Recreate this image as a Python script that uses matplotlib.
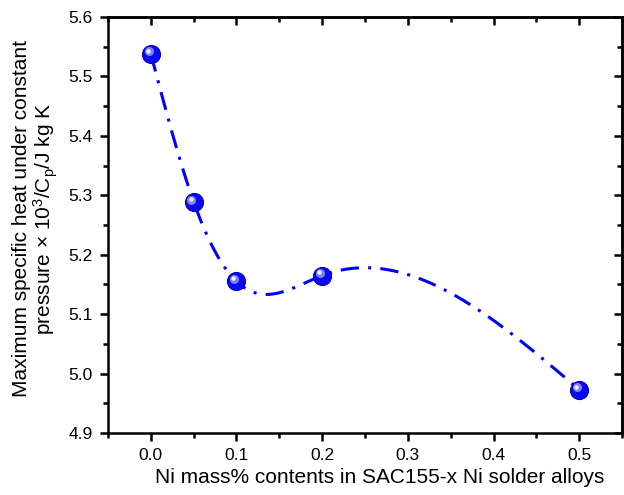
import numpy as np
import matplotlib
matplotlib.use("Agg")
import matplotlib.pyplot as plt
from matplotlib import transforms
from matplotlib.ticker import MultipleLocator

plt.rcParams['font.family'] = ['Liberation Sans', 'DejaVu Sans']
plt.rcParams['mathtext.fontset'] = 'custom'
plt.rcParams['mathtext.rm'] = 'Liberation Sans'
plt.rcParams['mathtext.it'] = 'Liberation Sans:italic'

ni_content = [0.0, 0.05, 0.1, 0.2, 0.5]
cp_max = [5.538, 5.289, 5.155, 5.165, 4.973]


def natural_spline(x, y, n=400):
    # natural cubic spline through the measured points
    x = np.asarray(x, float)
    y = np.asarray(y, float)
    h = np.diff(x)
    m = len(x)
    A = np.zeros((m, m))
    b = np.zeros(m)
    A[0, 0] = A[-1, -1] = 1
    for i in range(1, m - 1):
        A[i, i - 1] = h[i - 1]
        A[i, i] = 2 * (h[i - 1] + h[i])
        A[i, i + 1] = h[i]
        b[i] = 6 * ((y[i + 1] - y[i]) / h[i] - (y[i] - y[i - 1]) / h[i - 1])
    M = np.linalg.solve(A, b)
    xs = np.linspace(x[0], x[-1], n)
    idx = np.clip(np.searchsorted(x, xs) - 1, 0, m - 2)
    x0, x1 = x[idx], x[idx + 1]
    hh = x1 - x0
    ys = (M[idx] * (x1 - xs) ** 3 / (6 * hh) + M[idx + 1] * (xs - x0) ** 3 / (6 * hh)
          + (y[idx] / hh - M[idx] * hh / 6) * (x1 - xs)
          + (y[idx + 1] / hh - M[idx + 1] * hh / 6) * (xs - x0))
    return xs, ys


fig = plt.figure(figsize=(6.24, 4.95), dpi=100)
ax = fig.add_axes([0.173, 0.125, 0.824, 0.841])

xs, ys = natural_spline(ni_content, cp_max)
ax.plot(xs, ys, color='#0000ff', lw=2.2, linestyle=(0, (6, 3, 1, 3)), zorder=2)

# shaded balls: blue body, lighter core, white glint up-left
ax.plot(ni_content, cp_max, 'o', ms=13, color='#0a0af0', mec='#0000c8', mew=0.8, zorder=3)
core = transforms.offset_copy(ax.transData, fig=fig, x=-1.6, y=1.6, units='points')
ax.plot(ni_content, cp_max, 'o', ms=6.5, color='#8080ff', mew=0, transform=core, zorder=4)
glint = transforms.offset_copy(ax.transData, fig=fig, x=-2.2, y=2.2, units='points')
ax.plot(ni_content, cp_max, 'o', ms=3.2, color='#f0f0ff', mew=0, transform=glint, zorder=5)

ax.set_xlim(-0.05, 0.55)
ax.set_ylim(4.9, 5.6)
ax.xaxis.set_major_locator(MultipleLocator(0.1))
ax.xaxis.set_minor_locator(MultipleLocator(0.05))
ax.yaxis.set_major_locator(MultipleLocator(0.1))
ax.yaxis.set_minor_locator(MultipleLocator(0.05))
ax.set_xticks([0.0, 0.1, 0.2, 0.3, 0.4, 0.5])

for s in ax.spines.values():
    s.set_linewidth(1.8)
ax.tick_params(which='both', direction='out', width=1.8, labelsize=12.5, pad=5,
               top=False, right=False)
ax.tick_params(which='major', length=6)
ax.tick_params(which='minor', length=3.5)

# mirrored ticks pointing inward on top and right
top = ax.secondary_xaxis('top')
top.set_xticks([0.0, 0.1, 0.2, 0.3, 0.4, 0.5])
top.xaxis.set_minor_locator(MultipleLocator(0.05))
top.tick_params(which='both', direction='in', width=1.8, labeltop=False)
top.tick_params(which='major', length=6)
top.tick_params(which='minor', length=3.5)
top.spines['top'].set_linewidth(1.8)
right = ax.secondary_yaxis('right')
right.yaxis.set_major_locator(MultipleLocator(0.1))
right.yaxis.set_minor_locator(MultipleLocator(0.05))
right.tick_params(which='both', direction='in', width=1.8, labelright=False)
right.tick_params(which='major', length=6)
right.tick_params(which='minor', length=3.5)
right.spines['right'].set_linewidth(1.8)

ax.set_xlabel('Ni mass% contents in SAC155-x Ni solder alloys', fontsize=15)
ax.xaxis.set_label_coords(0.528, -0.084)
ax.set_ylabel('Maximum specific heat under constant\n'
              r'pressure × 10$^3$/C$_\mathrm{p}$/J kg K', fontsize=15, linespacing=1.0)
ax.yaxis.set_label_coords(-0.094, 0.515)

fig.savefig('out.png', dpi=100)
